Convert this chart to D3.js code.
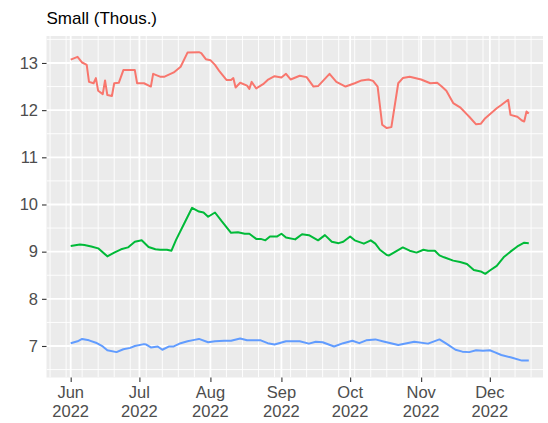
<!DOCTYPE html>
<html><head><meta charset="utf-8">
<script src="https://cdn.jsdelivr.net/npm/d3@7"></script>
<style>html,body{margin:0;padding:0;background:#fff;}svg{display:block;}</style>
</head><body><div id="chart"></div>
<script>
const title = "Small (Thous.)";
const seriesNames = ["A", "B", "C"];
const seriesColors = ["#F8766D", "#00BA38", "#619CFF"];
const yTicks = [7, 8, 9, 10, 11, 12, 13];
const xTickMonths = ["2022-06-01","2022-07-01","2022-08-01","2022-09-01","2022-10-01","2022-11-01","2022-12-01"];

const redDates = ["06-01","06-04","06-06","06-08","06-09","06-11","06-12","06-13","06-15","06-16","06-17","06-19","06-20","06-22","06-24","06-29","06-30","07-03","07-06","07-07","07-10","07-12","07-16","07-19","07-22","07-27","07-28","07-30","08-01","08-03","08-05","08-08","08-10","08-11","08-12","08-14","08-17","08-18","08-19","08-21","08-24","08-26","08-29","09-01","09-03","09-05","09-09","09-12","09-15","09-17","09-22","09-25","09-29","10-03","10-06","10-09","10-11","10-13","10-15","10-17","10-19","10-22","10-24","10-27","11-01","11-05","11-08","11-10","11-12","11-15","11-18","11-21","11-22","11-25","11-27","11-29","12-04","12-06","12-09","12-10","12-13","12-15","12-16","12-17","12-18"];
const redValues = [13.07,13.13,13.01,12.96,12.60,12.57,12.68,12.41,12.34,12.63,12.32,12.30,12.57,12.58,12.85,12.85,12.57,12.57,12.50,12.77,12.71,12.71,12.80,12.92,13.22,13.23,13.21,13.08,13.06,12.96,12.82,12.64,12.64,12.68,12.48,12.58,12.52,12.45,12.60,12.46,12.55,12.64,12.72,12.69,12.77,12.65,12.73,12.70,12.50,12.51,12.77,12.60,12.50,12.57,12.63,12.65,12.62,12.50,11.69,11.62,11.64,12.57,12.68,12.71,12.65,12.57,12.58,12.50,12.41,12.15,12.06,11.91,11.86,11.70,11.71,11.83,12.04,12.11,12.22,11.90,11.86,11.78,11.76,11.97,11.93];

const greenDates = ["06-01","06-05","06-07","06-10","06-13","06-17","06-20","06-23","06-26","06-29","07-02","07-05","07-08","07-10","07-13","07-15","07-17","07-21","07-24","07-27","07-29","07-31","08-03","08-06","08-10","08-13","08-16","08-18","08-21","08-23","08-25","08-27","08-30","09-01","09-03","09-07","09-10","09-13","09-17","09-20","09-23","09-26","09-28","10-01","10-03","10-07","10-10","10-12","10-14","10-17","10-18","10-24","10-27","10-30","11-02","11-04","11-07","11-09","11-11","11-15","11-18","11-21","11-24","11-27","11-29","12-01","12-04","12-07","12-10","12-13","12-16","12-18"];
const greenValues = [9.12,9.15,9.14,9.11,9.07,8.90,8.98,9.05,9.09,9.21,9.24,9.10,9.05,9.04,9.04,9.02,9.25,9.64,9.93,9.85,9.83,9.74,9.83,9.64,9.40,9.41,9.38,9.38,9.27,9.27,9.24,9.32,9.32,9.38,9.30,9.26,9.37,9.35,9.24,9.35,9.21,9.18,9.21,9.32,9.24,9.17,9.24,9.17,9.04,8.93,8.92,9.09,9.02,8.98,9.04,9.02,9.02,8.92,8.88,8.81,8.78,8.74,8.61,8.58,8.53,8.60,8.70,8.88,9.00,9.11,9.19,9.18];

const blueDates = ["06-01","06-04","06-06","06-09","06-12","06-15","06-17","06-21","06-24","06-27","06-29","07-03","07-04","07-06","07-09","07-11","07-14","07-16","07-19","07-22","07-25","07-27","07-31","08-03","08-07","08-10","08-14","08-17","08-23","08-26","08-29","09-03","09-09","09-13","09-16","09-19","09-24","09-28","10-02","10-05","10-08","10-12","10-16","10-22","10-29","11-04","11-09","11-12","11-16","11-19","11-22","11-25","11-28","12-01","12-03","12-06","12-10","12-15","12-18"];
const blueValues = [7.06,7.10,7.15,7.12,7.07,6.99,6.91,6.87,6.93,6.96,7.00,7.04,7.03,6.97,6.99,6.92,6.99,6.99,7.06,7.10,7.13,7.15,7.08,7.10,7.11,7.11,7.16,7.12,7.12,7.06,7.03,7.10,7.10,7.05,7.09,7.08,6.99,7.06,7.11,7.06,7.12,7.14,7.09,7.02,7.09,7.05,7.14,7.05,6.92,6.88,6.87,6.91,6.90,6.91,6.87,6.81,6.76,6.69,6.69];

const W = 548, H = 423;
const P = {left: 46.5, right: 543, top: 36, bottom: 377.5};
const parse = d3.utcParse("%Y-%m-%d");
const xDomain = [Date.UTC(2022,4,21,10,34), Date.UTC(2022,11,24,4,48)];
const yDomain = [6.332, 13.572];

const x = d3.scaleUtc().domain(xDomain).range([P.left, P.right]);
const y = d3.scaleLinear().domain(yDomain).range([P.bottom, P.top]);

const svg = d3.select("#chart").append("svg").attr("width", W).attr("height", H);
svg.append("rect").attr("x", P.left).attr("y", P.top).attr("width", P.right - P.left).attr("height", P.bottom - P.top).attr("fill", "#EBEBEB");

const clip = svg.append("defs").append("clipPath").attr("id","pc").append("rect")
  .attr("x", P.left).attr("y", P.top).attr("width", P.right - P.left).attr("height", P.bottom - P.top);
const g = svg.append("g").attr("clip-path","url(#pc)");

// minor grid
const weekMinor = d3.utcMonday.range(new Date(xDomain[0]), new Date(xDomain[1]));
g.selectAll(".vmin").data(weekMinor).join("line")
  .attr("x1", d => x(d)).attr("x2", d => x(d)).attr("y1", P.top).attr("y2", P.bottom)
  .attr("stroke", "#fff").attr("stroke-width", 0.9);
const yMinor = yTicks.map(v => v - 0.5).concat([yTicks[yTicks.length-1] + 0.5]);
g.selectAll(".hmin").data(yMinor).join("line")
  .attr("x1", P.left).attr("x2", P.right).attr("y1", d => y(d)).attr("y2", d => y(d))
  .attr("stroke", "#fff").attr("stroke-width", 0.9);
// major grid
const monthDates = xTickMonths.map(parse);
g.selectAll(".vmaj").data(monthDates).join("line")
  .attr("x1", d => x(d)).attr("x2", d => x(d)).attr("y1", P.top).attr("y2", P.bottom)
  .attr("stroke", "#fff").attr("stroke-width", 1.8);
g.selectAll(".hmaj").data(yTicks).join("line")
  .attr("x1", P.left).attr("x2", P.right).attr("y1", d => y(d)).attr("y2", d => y(d))
  .attr("stroke", "#fff").attr("stroke-width", 1.8);

const series = [
  {dates: redDates, values: redValues},
  {dates: greenDates, values: greenValues},
  {dates: blueDates, values: blueValues}
];
const line = d3.line().x(d => x(d[0])).y(d => y(d[1]));
series.forEach((s, i) => {
  const pts = s.dates.map((d, j) => [parse("2022-" + d), s.values[j]]);
  g.append("path").datum(pts).attr("d", line)
    .attr("fill", "none").attr("stroke", seriesColors[i]).attr("stroke-width", 2)
    .attr("stroke-linejoin", "round").attr("stroke-linecap", "butt");
});

// axes
const font = "'Liberation Sans', Arial, sans-serif";
const yAxis = d3.axisLeft(y).tickValues(yTicks).tickSize(4.5).tickPadding(4).tickFormat(d3.format("d"));
const ya = svg.append("g").attr("transform", `translate(${P.left},0)`).call(yAxis);
ya.select(".domain").remove();
ya.selectAll(".tick line").attr("stroke", "#333333").attr("stroke-width", 1.1);
ya.selectAll(".tick text").attr("fill", "#4D4D4D").style("font-family", font).style("font-size", "16.5px");

const monthFmt = d3.utcFormat("%b");
const yearFmt = d3.utcFormat("%Y");
const xAxis = d3.axisBottom(x).tickValues(monthDates).tickSize(4.5).tickFormat("");
const xa = svg.append("g").attr("transform", `translate(0,${P.bottom})`).call(xAxis);
xa.select(".domain").remove();
xa.selectAll(".tick line").attr("stroke", "#333333").attr("stroke-width", 1.1);
const lab = svg.append("g");
monthDates.forEach(d => {
  const t = lab.append("text").attr("x", x(d)).attr("text-anchor", "middle")
    .attr("fill", "#4D4D4D").style("font-family", font).style("font-size", "16.5px");
  t.append("tspan").attr("x", x(d)).attr("y", 398).text(monthFmt(d));
  t.append("tspan").attr("x", x(d)).attr("y", 416.5).text(yearFmt(d));
});

svg.append("text").attr("x", P.left).attr("y", 24).text(title)
  .attr("fill", "#000").style("font-family", font).style("font-size", "17px");
</script></body></html>
